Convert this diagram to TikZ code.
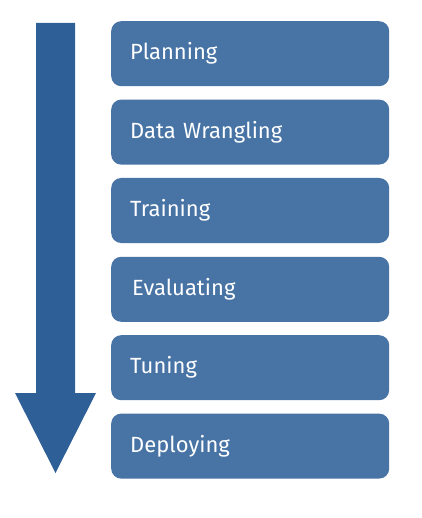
\documentclass[tikz,border=0pt]{standalone}
\usepackage{fontspec}
\setsansfont{Fira Sans}
\definecolor{boxblue}{HTML}{4773A5}
\definecolor{arrowblue}{HTML}{2F5F97}
\tikzset{
  stage/.style={fill=boxblue, rounded corners=10pt, anchor=north west,
    minimum width=278pt, minimum height=65pt, text width=240pt,
    inner xsep=19pt, align=left, text=white,
    font=\sffamily\fontsize{22}{26}\selectfont}
}
\begin{document}
\begin{tikzpicture}[x=1pt,y=-1pt]
  \useasboundingbox (0,0) rectangle (421,518);
  % process arrow
  \fill[arrowblue] (36,23) -- (75,23) -- (75,393) -- (96,393) -- (55.5,473)
    -- (15,393) -- (36,393) -- cycle;
  % stages
  \node[stage] (plan) at (111,21) {Planning};
  \node[stage] (wrangle) at (111,99.4) {Data Wrangling};
  \node[stage] (train) at (111,177.8) {Training};
  \node[stage] (eval) at (111,256.6) {\hspace{2pt}Evaluating};
  \node[stage] (tune) at (111,335) {Tuning};
  \node[stage] (deploy) at (111,413.4) {Deploying};
\end{tikzpicture}
\end{document}
